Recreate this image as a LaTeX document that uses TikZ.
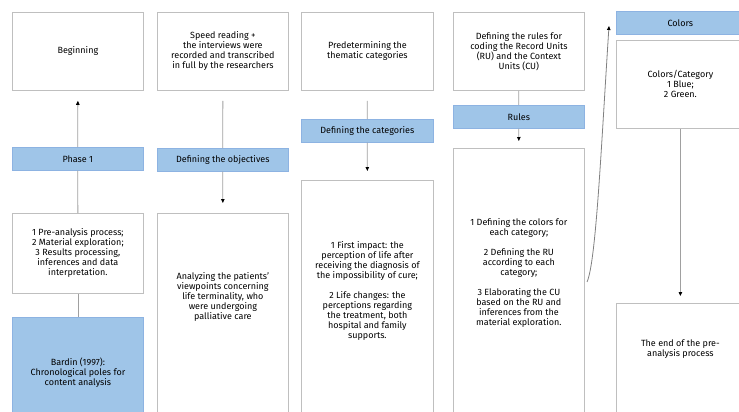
\documentclass[tikz,border=0pt]{standalone}
\usepackage{fontspec}
\setmainfont{Fira Sans}
\usetikzlibrary{positioning,arrows.meta,calc}
\definecolor{barfill}{HTML}{9FC5E8}
\definecolor{barline}{HTML}{8DB3E2}
\definecolor{boxline}{HTML}{BFBFBF}
\definecolor{linkgray}{HTML}{A0A0A0}

\begin{document}
\begin{tikzpicture}[
    x=1pt, y=-1pt,
    font=\fontsize{9}{10}\selectfont,
    box/.style={draw=boxline, fill=white, line width=0.8pt, align=center,
                anchor=north west, minimum width=131pt, inner sep=1pt},
    bar/.style={draw=barline, fill=barfill, line width=0.6pt, anchor=north west,
                minimum width=131pt, minimum height=23pt, inner sep=1pt},
    txt/.style={align=center, inner sep=0pt},
    link/.style={draw=linkgray, line width=0.8pt},
    flow/.style={link, -{Triangle[length=4pt, width=3.5pt, color=black]}},
  ]
  \useasboundingbox (0,0) rectangle (739,412);
  \clip (0,0) rectangle (739,412);

  % column 1: phase 1
  \node[box, minimum height=78pt] (begin) at (12,12) {Beginning};
  \node[bar] (phase) at (12,147) {Phase 1};
  \node[box, minimum height=80pt] (steps) at (12,213)
    {1 Pre-analysis process;\\ 2 Material exploration;\\ 3 Results processing,\\
     inferences and data\\ interpretation.};
  \node[box, draw=barline, fill=barfill, minimum height=110pt] (bardin) at (12,317)
    {Bardin (1997):\\ Chronological poles for\\ content analysis};

  % column 2: objectives
  \node[box, minimum height=78pt] (speed) at (157,12)
    {Speed reading +\\ the interviews were\\ recorded and transcribed\\ in full by the researchers};
  \node[bar] (objectives) at (157,148) {Defining the objectives};
  \node[box, minimum height=210pt] (analyzing) at (157,213) {};
  \node[txt] (analyzing-txt) at ($(analyzing.north)+(0,84)$)
    {Analyzing the patients'\\ viewpoints concerning\\ life terminality, who\\
     were undergoing\\ palliative care};

  % column 3: categories
  \node[box, minimum width=132pt, minimum height=78pt] (predet) at (301,12)
    {Predetermining the\\ thematic categories};
  \node[bar, minimum width=132pt] (categories) at (301,119) {Defining the categories};
  \node[box, minimum width=132pt, minimum height=240pt] (themes) at (301,180) {};
  \node[txt] (themes-txt) at ($(themes.north)+(0,111)$)
    {1 First impact: the\\ perception of life after\\ receiving the diagnosis of\\
     the impossibility of cure;\\[10pt] 2 Life changes: the\\ perceptions regarding\\
     the treatment, both\\ hospital and family\\ supports.};

  % column 4: rules
  \node[box, minimum height=78pt] (rulesdef) at (453,12)
    {Defining the rules for\\ coding the Record Units\\ (RU) and the Context\\ Units (CU)};
  \node[bar] (rules) at (453,105) {Rules};
  \node[box, minimum height=270pt] (ruleslist) at (453,148) {};
  \node[txt] (ruleslist-txt) at ($(ruleslist.north)+(0,125)$)
    {1 Defining the colors for\\ each category;\\[10pt] 2 Defining the RU\\
     according to each\\ category;\\[10pt] 3 Elaborating the CU\\ based on the RU and\\
     inferences from the\\ material exploration.};

  % column 5: colors
  \node[bar, minimum width=128pt] (colors) at (616,11) {Colors};
  \node[box, minimum width=128pt, minimum height=88pt] (colorcat) at (616,40)
    {Colors/Category\\ 1 Blue;\\ 2 Green.};
  \node[box, minimum width=128pt, minimum height=120pt] (finish) at (616,303) {};
  \node[txt] (finish-txt) at ($(finish.north)+(0,46)$)
    {The end of the pre-\\ analysis process};

  % connectors
  \draw[flow, shorten >=10pt] (phase) -- (begin);
  \draw[link] (phase) -- (steps);
  \draw[link] (steps) -- (bardin);
  \draw[link, shorten <=10pt] (speed) -- (objectives);
  \draw[flow, shorten >=10pt] (objectives) -- (analyzing);
  \draw[link, shorten <=10pt] (predet) -- (categories);
  \draw[flow, shorten >=9pt] (categories) -- (themes);
  \draw[link] (rulesdef) -- (rules);
  \draw[flow, shorten >=7pt] (rules) -- (ruleslist);
  \draw[flow, shorten >=7pt] (colorcat) -- (finish);

  \coordinate (bend-start) at (587,282);
  \coordinate (bend-end) at (609,26);
  \draw[flow, draw=gray] (bend-start) .. controls (596,262) and (601,150) .. (bend-end);
\end{tikzpicture}
\end{document}
